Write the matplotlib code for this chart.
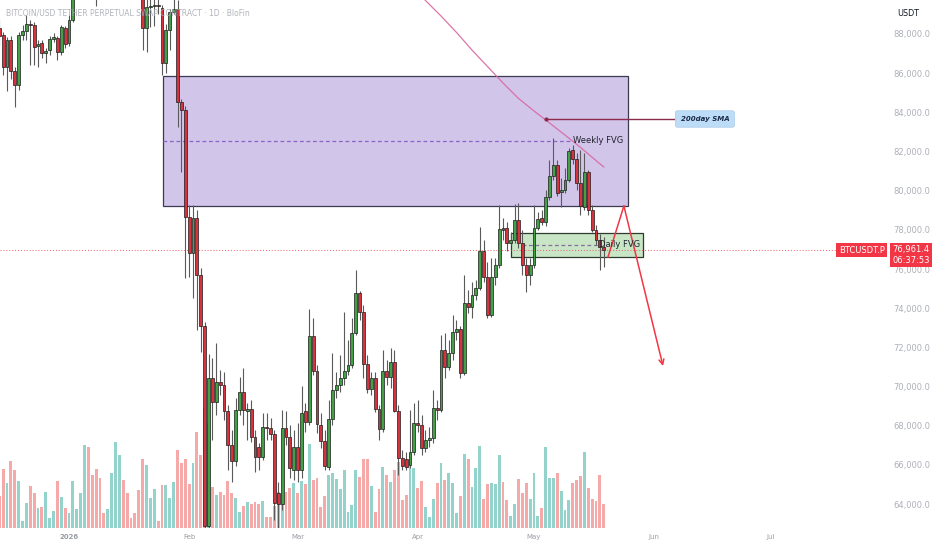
import numpy as np
import pandas as pd
import matplotlib
matplotlib.use("Agg")
import matplotlib.pyplot as plt
import matplotlib.dates as mdates
from matplotlib.patches import Rectangle
from matplotlib.transforms import blended_transform_factory

# ---- data: BTCUSDT.P daily candles ----
dates = pd.date_range("2025-12-14", "2026-05-19", freq="D")

opens = [88310, 87950, 86310, 87690, 86110, 85400, 87950, 88150, 88510, 88460,
         87390, 87540, 87030, 87180, 87750, 87800, 87080, 88310, 87540, 88720,
         89950, 90600, 91500, 93900, 93700, 91300, 91000, 90600, 90500, 90900,
         91200, 95300, 97000, 95600, 95500, 95100, 93100, 91600, 88310, 89380,
         89430, 89480, 89330, 86520, 88200, 89100, 89300, 84530, 84120, 78660,
         76820, 78610, 75700, 73090, 62880, 70430, 69210, 70230, 70080, 68750,
         67010, 66200, 68800, 69720, 68750, 68850, 67420, 66910, 66400, 67930,
         67880, 67580, 64560, 64000, 67880, 67420, 65740, 66910, 65740, 68750,
         68190, 72580, 70790, 68040, 67220, 65890, 68340, 69820, 70080, 70430,
         70790, 71100, 72730, 74780, 73810, 71150, 69870, 70430, 68850, 67830,
         70790, 70490, 71250, 68750, 66350, 66300, 65990, 66660, 68140, 68040,
         66860, 67270, 67370, 68900, 68800, 71870, 70990, 71710, 72780, 72940,
         70690, 74260, 74060, 74670, 75030, 76920, 75590, 73650, 75590, 76210,
         78100, 78100, 77330, 77480, 78500, 77330, 76210, 75700, 76210, 78100,
         78610, 78400, 79680, 80750, 81310, 79930, 80030, 80550, 82080, 81620,
         80390, 79170, 80950, 79010, 77990, 77480, 77130]
highs = [88720, 88100, 87850, 87900, 86300, 88100, 88460, 88970, 88720, 88610,
         87690, 87690, 87290, 87900, 88050, 87900, 88460, 88410, 88970, 90200,
         91000, 91800, 94800, 94300, 94000, 91600, 91800, 90900, 91400, 92400,
         96200, 97900, 97200, 95900, 95600, 95300, 93400, 91800, 90400, 90300,
         90000, 89900, 89500, 88500, 89300, 90500, 89740, 84700, 84300, 79270,
         79270, 79000, 76050, 73300, 71660, 71460, 72220, 70840, 70740, 69060,
         67780, 69410, 70490, 70940, 69160, 69310, 67780, 67120, 68650, 68650,
         68390, 67780, 65130, 68800, 68750, 68040, 67780, 68140, 70030, 69160,
         73960, 73500, 71100, 68650, 67780, 69310, 71710, 70740, 71610, 73810,
         72380, 73500, 75950, 74900, 74160, 71610, 70740, 70740, 69060, 71870,
         71350, 71970, 71870, 69060, 66760, 66660, 68800, 69160, 69310, 68550,
         67780, 67930, 69820, 69310, 72630, 72730, 72380, 73650, 73400, 73090,
         75700, 74930, 75340, 75440, 78150, 77480, 76360, 76560, 76560, 79270,
         78610, 78400, 77890, 79320, 79370, 77990, 76560, 76560, 79270, 78910,
         79010, 80030, 81570, 82690, 81570, 80650, 81160, 82180, 82330, 81920,
         82080, 81920, 81060, 79270, 78250, 77790, 77640]
lows = [87440, 85910, 85100, 85700, 84270, 85140, 87690, 87690, 86420, 86420,
        86310, 86770, 86520, 86930, 87590, 86670, 86930, 87290, 87390, 88610,
        89800, 90300, 91000, 92600, 90800, 89450, 90000, 90100, 90200, 90100,
        91000, 94900, 94800, 94600, 94900, 92200, 90900, 87200, 87080, 88360,
        88400, 89000, 85910, 86000, 87180, 89000, 83250, 80950, 75540, 75590,
        74520, 72890, 71760, 59900, 60100, 67270, 68550, 69570, 68290, 65740,
        65130, 65940, 68550, 68040, 67270, 67170, 65640, 65740, 66250, 67270,
        67270, 63180, 62600, 63700, 67010, 65330, 65230, 65130, 65330, 67680,
        68040, 70590, 67630, 66860, 65740, 65740, 68040, 69410, 69720, 70080,
        70590, 70940, 72630, 73400, 70430, 69670, 69570, 68700, 67270, 67680,
        70080, 69920, 68700, 65480, 65740, 65740, 65840, 66500, 67680, 66500,
        66660, 66910, 67120, 68290, 68700, 70430, 70840, 71350, 72380, 70430,
        70590, 73750, 73500, 74420, 74930, 75340, 73500, 73550, 75180, 76050,
        77480, 76920, 77230, 77330, 77070, 75700, 74830, 75180, 76050, 77990,
        78250, 78200, 79520, 80550, 79730, 79170, 79880, 80440, 81360, 80030,
        78760, 79010, 78760, 77890, 77230, 75950, 76100]
closes = [87900, 86310, 87690, 86110, 85400, 87950, 88150, 88510, 88460, 87340,
          87490, 87030, 87130, 87750, 87850, 87080, 88360, 87490, 88720, 89950,
          90600, 91500, 93900, 93700, 91300, 91000, 90600, 90500, 90900, 91200,
          95300, 97000, 95600, 95500, 95100, 93100, 91600, 88310, 89380, 89430,
          89480, 89430, 86520, 88200, 89100, 89300, 84530, 84120, 78660, 76820,
          78610, 75700, 73090, 62880, 70430, 69210, 70230, 70080, 68750, 67010,
          66200, 68800, 69720, 68800, 68850, 67420, 66400, 66400, 67930, 67880,
          67580, 64050, 64000, 67880, 67420, 65840, 66910, 65740, 68650, 68190,
          72580, 70790, 68090, 67220, 65940, 68340, 69820, 70080, 70430, 70790,
          71100, 72730, 74780, 73810, 71150, 69870, 70430, 68850, 67830, 70790,
          70490, 71250, 68750, 66350, 65940, 65890, 66660, 68140, 68040, 66860,
          67270, 67370, 68900, 68800, 71870, 70990, 71710, 72780, 72940, 70690,
          74260, 74060, 74670, 75030, 76920, 75590, 73650, 75590, 76210, 78040,
          77990, 77330, 77480, 78500, 77330, 76210, 75700, 76210, 78100, 78560,
          78400, 79680, 80750, 81310, 79880, 80030, 80550, 82030, 81620, 80390,
          79220, 80950, 79010, 77990, 77480, 77130, 76961.4]
volume = [32, 59, 45, 67, 58, 47, 7, 25, 42, 35,
          20, 21, 36, 10, 17, 47, 31, 20, 15, 47,
          19, 35, 83, 81, 53, 59, 50, 15, 19, 55,
          86, 73, 48, 35, 10, 15, 38, 69, 63, 30,
          39, 7, 43, 43, 30, 46, 78, 65, 69, 44,
          65, 96, 73, 120, 105, 41, 33, 36, 33, 47,
          35, 30, 16, 22, 26, 24, 26, 24, 27, 11,
          11, 22, 36, 24, 36, 40, 45, 35, 47, 44,
          84, 48, 50, 21, 32, 53, 55, 49, 39, 58,
          16, 23, 58, 51, 69, 69, 42, 16, 39, 61,
          53, 46, 58, 66, 28, 33, 75, 60, 40, 47,
          21, 11, 29, 45, 65, 48, 55, 45, 15, 32,
          74, 69, 41, 60, 82, 29, 44, 45, 44, 73,
          46, 28, 12, 24, 49, 35, 45, 29, 55, 12,
          20, 81, 50, 50, 55, 37, 18, 28, 45, 48,
          52, 76, 40, 29, 27, 53, 24]

# 200-day SMA (days after 2026-01-01, price)
sma_days = [88, 92, 96, 100, 104, 108, 112, 116, 120, 124, 128, 132, 136, 138]
sma_vals = [90550, 89710, 88920, 88080, 87180, 86340, 85500,
            84710, 84070, 83460, 82840, 82210, 81540, 81210]

# drawings (days after 2026-01-01, price)
weekly_fvg = dict(d0=24.2, d1=144.2, lo=79218, hi=85871, mid_end=129.3)
daily_fvg = dict(d0=114.1, d1=148.2, lo=76629, hi=77854, mid_start=116.8, mid_end=136.2)
sma_note = dict(d0=123.1, d1=156.1, price=83660, label_d=164.1)
red_path_days = [139.1, 143.2, 153.3]
red_path_prices = [76614, 79218, 71048]
last_price = 76961.4

month_ticks = ["2026-01-01", "2026-02-01", "2026-03-01", "2026-04-01",
               "2026-05-01", "2026-06-01", "2026-07-01"]
month_labels = ["2026", "Feb", "Mar", "Apr", "May", "Jun", "Jul"]
price_ticks = np.arange(64000, 88001, 2000)

# ---- plot ----
opens, highs, lows, closes = map(np.array, (opens, highs, lows, closes))
x = mdates.date2num(dates)
t0 = mdates.date2num(pd.Timestamp("2026-01-01"))
up = closes >= opens

UP, DOWN = "#43a047", "#d8323f"
VUP, VDOWN = "#93d3cc", "#f6a9a9"

fig = plt.figure(figsize=(9.32, 5.5), dpi=100)
rect = [0, 22 / 550, 868 / 932, 528 / 550]
axv = fig.add_axes(rect)
ax = fig.add_axes(rect, sharex=axv)
ax.patch.set_alpha(0)

# volume
axv.bar(x, volume, width=0.72, color=np.where(up, VUP, VDOWN), linewidth=0)
axv.set_ylim(0, 528)
axv.axis("off")

# boxes
w = weekly_fvg
ax.add_patch(Rectangle((t0 + w["d0"], w["lo"]), w["d1"] - w["d0"], w["hi"] - w["lo"],
                       facecolor="#d2c5ea", edgecolor="#3a3a50", lw=0.9, zorder=1))
ax.plot([t0 + w["d0"], t0 + w["mid_end"]], [(w["lo"] + w["hi"]) / 2] * 2,
        color="#8a63c8", lw=0.9, dashes=(3, 2.2), zorder=1.5)
dfv = daily_fvg
ax.add_patch(Rectangle((t0 + dfv["d0"], dfv["lo"]), dfv["d1"] - dfv["d0"], dfv["hi"] - dfv["lo"],
                       facecolor="#c8e6c6", edgecolor="#2f3a2f", lw=0.9, zorder=1))
ax.plot([t0 + dfv["mid_start"], t0 + dfv["mid_end"]], [(dfv["lo"] + dfv["hi"]) / 2] * 2,
        color="#8a6c9a", lw=0.9, dashes=(3, 2.2), zorder=1.5)

# candles
ax.vlines(x, lows, highs, color="#5a5a5a", lw=0.8, zorder=2)
ax.bar(x, np.maximum(np.abs(closes - opens), 40), bottom=np.minimum(opens, closes),
       width=0.75, color=np.where(up, UP, DOWN), edgecolor="#1c1c1c", linewidth=0.5, zorder=3)

# SMA + pointer
ax.plot(t0 + np.array(sma_days), sma_vals, color="#d8679f", lw=0.9, alpha=0.9, zorder=4)
s = sma_note
ax.plot([t0 + s["d0"], t0 + s["d1"]], [s["price"]] * 2, color="#8c2a4c", lw=1, zorder=4)
ax.plot(t0 + s["d0"], s["price"], "o", color="#8c2a4c", ms=2, zorder=4)
ax.text(t0 + s["label_d"], s["price"], "200day SMA", ha="center", va="center", fontsize=5,
        fontweight="bold", style="italic", color="#1b2a47", zorder=6,
        bbox=dict(boxstyle="round,pad=0.75,rounding_size=0.3", fc="#bcdcf7", ec="#a9c9e6", lw=0.5))

ax.text(t0 + w["mid_end"] + 0.8, (w["lo"] + w["hi"]) / 2, "Weekly FVG", fontsize=6,
        color="#1e222d", va="center", ha="left", zorder=6)
ax.text(t0 + dfv["mid_end"] + 0.6, (dfv["lo"] + dfv["hi"]) / 2, "Daily FVG", fontsize=6,
        color="#1e222d", va="center", ha="left", zorder=6)

# red projection
rd = t0 + np.array(red_path_days)
ax.plot(rd[:2], red_path_prices[:2], color="#f23645", lw=1.1, zorder=5)
ax.annotate("", xy=(rd[2], red_path_prices[2]), xytext=(rd[1], red_path_prices[1]),
            arrowprops=dict(arrowstyle="->", color="#f23645", lw=1.1, mutation_scale=9,
                            shrinkA=0, shrinkB=0), zorder=5)

# last price line + labels
ax.axhline(last_price, color="#f23645", lw=0.7, ls=(0, (1, 2)), alpha=0.8, zorder=1.2)
tr = blended_transform_factory(ax.transAxes, ax.transData)
ax.annotate("BTCUSDT.P", xy=(1, last_price), xycoords=tr, xytext=(-4.5, 0),
            textcoords="offset points", ha="center", va="center", fontsize=6, color="white",
            annotation_clip=False, zorder=10,
            bbox=dict(boxstyle="square,pad=0.3", fc="#f23645", ec="none"))
ax.annotate(f"{last_price:,.1f}\n06:37:53", xy=(1, last_price), xycoords=tr, xytext=(44.3, 3.5),
            textcoords="offset points", ha="right", va="top", fontsize=6, color="white",
            linespacing=1.2, annotation_clip=False, zorder=10,
            bbox=dict(boxstyle="square,pad=0.3", fc="#f23645", ec="none"))

# axes
ax.set_xlim(t0 - 17.81, t0 + 206.2)
ax.set_ylim(62776, 89736)
ax.set_xticks(mdates.date2num(pd.to_datetime(month_ticks)))
ax.set_xticklabels(month_labels)
ax.set_yticks(price_ticks)
ax.set_yticklabels([f"{v:,.1f}" for v in price_ticks])
ax.yaxis.tick_right()
ax.tick_params(axis="y", length=0, pad=44.6, labelsize=6, labelcolor="#adb0b8")
ax.tick_params(axis="x", length=0, pad=4, labelsize=5, labelcolor="#9a9da6")
plt.setp(ax.get_yticklabels(), ha="right")
ax.get_xticklabels()[0].set_fontweight("bold")
for sp in ax.spines.values():
    sp.set_visible(False)

fig.text(6 / 932, 1 - 12.7 / 550, "BITCOIN/USD TETHER PERPETUAL SWAP CONTRACT · 1D · BloFin",
         fontsize=5.5, color="#a9acb5", va="center", ha="left", alpha=0.9)
fig.text(908 / 932, 1 - 13 / 550, "USDT", fontsize=5.8, color="#131722", va="center", ha="center")

fig.savefig("out.png", dpi=100)
